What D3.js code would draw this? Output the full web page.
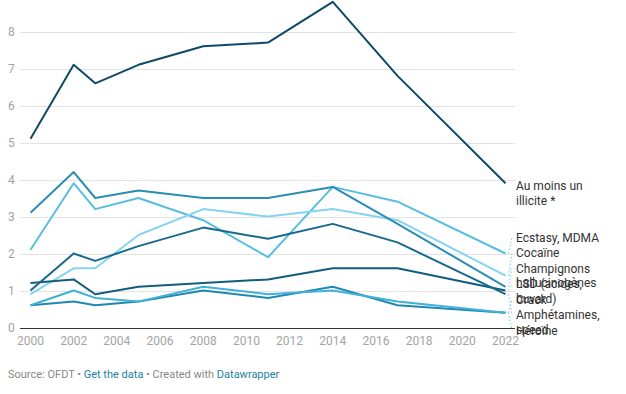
<!DOCTYPE html>
<html>
<head>
<meta charset="utf-8">
<script src="https://cdn.jsdelivr.net/npm/d3@7"></script>
<style>
  html, body { margin: 0; padding: 0; background: #fff; }
  svg { display: block; font-family: Roboto, "Noto Sans", sans-serif; }
</style>
</head>
<body>
<svg id="chart" width="626" height="394"></svg>
<script>
// ---- data ----
const years = [2000, 2002, 2003, 2005, 2008, 2011, 2014, 2017, 2022];
const seriesNames = ["Au moins un illicite *", "Ecstasy, MDMA", "Cocaïne", "Champignons hallucinogènes",
                     "LSD (acides, buvard)", "Crack", "Amphétamines, speed", "Héroïne"];
const auMoinsUn    = [5.1, 7.1, 6.6, 7.1, 7.6, 7.7, 8.8, 6.8, 3.9];
const ecstasy      = [2.1, 3.9, 3.2, 3.5, 2.9, 1.9, 3.8, 3.4, 2.0];
const cocaine      = [0.9, 1.6, 1.6, 2.5, 3.2, 3.0, 3.2, 2.9, 1.4];
const champignons  = [3.1, 4.2, 3.5, 3.7, 3.5, 3.5, 3.8, 2.8, 1.1];
const lsd          = [1.2, 1.3, 0.9, 1.1, 1.2, 1.3, 1.6, 1.6, 1.0];
const crack        = [0.6, 0.7, 0.6, 0.7, 1.0, 0.8, 1.1, 0.6, 0.4];
const amphetamines = [1.0, 2.0, 1.8, 2.2, 2.7, 2.4, 2.8, 2.3, 0.9];
const heroine      = [0.6, 1.0, 0.8, 0.7, 1.1, 0.9, 1.0, 0.7, 0.4];
const seriesValues = [auMoinsUn, ecstasy, cocaine, champignons, lsd, crack, amphetamines, heroine];
const yTicks = [0, 1, 2, 3, 4, 5, 6, 7, 8];
const xTicks = [2000, 2002, 2004, 2006, 2008, 2010, 2012, 2014, 2016, 2018, 2020, 2022];
const sourceText = ["Source: OFDT", "Get the data", "Created with", "Datawrapper"];

// ---- styles ----
const colors = ["#0e4a66", "#58bde0", "#86d4ef", "#2a8db5", "#135c7e", "#1f88b0", "#17698e", "#40b0d8"];

const svg = d3.select("#chart");
const x = d3.scaleLinear().domain([2000, 2022]).range([30.5, 505.5]);
const y = d3.scaleLinear().domain([0, 8]).range([327.5, 31.5]);
const gridX0 = 20, gridX1 = 515;

// gridlines
svg.append("g").selectAll("line").data(yTicks.filter(d => d > 0)).join("line")
  .attr("x1", gridX0).attr("x2", gridX1)
  .attr("y1", d => Math.round(y(d)) + 0.5).attr("y2", d => Math.round(y(d)) + 0.5)
  .attr("stroke", "#e3e3e3").attr("stroke-width", 1);

// y labels
svg.append("g").selectAll("text").data(yTicks).join("text")
  .attr("x", 8).attr("y", d => y(d)).attr("dy", "0.35em")
  .attr("font-size", 12).attr("fill", "#a3a3a3")
  .text(d => d);

// baseline
svg.append("line").attr("x1", gridX0).attr("x2", gridX1)
  .attr("y1", Math.round(y(0)) + 0.5).attr("y2", Math.round(y(0)) + 0.5)
  .attr("stroke", "#333").attr("stroke-width", 1);

// x labels
svg.append("g").selectAll("text").data(xTicks).join("text")
  .attr("x", d => x(d)).attr("y", 341).attr("dy", "0.35em")
  .attr("text-anchor", "middle").attr("font-size", 12).attr("fill", "#a3a3a3")
  .text(d => d);

// lines
const line = d3.line().x((d, i) => x(years[i])).y(d => y(d));
svg.append("g").selectAll("path").data(seriesValues).join("path")
  .attr("d", d => line(d))
  .attr("fill", "none")
  .attr("stroke", (d, i) => colors[i])
  .attr("stroke-width", 2)
  .attr("stroke-linejoin", "round");

// labels with simple collision resolution
const labelX = 516, lineH = 14.5, gap = 15.5, maxW = 98;
const bottomLimit = y(0) + 3;
const labels = seriesNames.map((name, i) => {
  const v = seriesValues[i][seriesValues[i].length - 1];
  return { name, i, endY: y(v), ideal: y(v) + 3 };
});
// top-down
labels.forEach((l, k) => {
  l.pos = k === 0 ? l.ideal : Math.max(l.ideal, labels[k - 1].pos + gap);
});
// bottom-up
for (let k = labels.length - 1; k >= 0; k--) {
  const lim = k === labels.length - 1 ? bottomLimit : labels[k + 1].pos - gap;
  labels[k].pos = Math.min(labels[k].pos, lim);
}

// measure & wrap
const meas = svg.append("text").attr("font-size", 12).attr("visibility", "hidden");
function wrap(str) {
  const words = str.split(" ");
  const lines = [];
  let cur = "";
  words.forEach(w => {
    const t = cur ? cur + " " + w : w;
    meas.text(t);
    if (meas.node().getComputedTextLength() > maxW && cur) { lines.push(cur); cur = w; }
    else cur = t;
  });
  if (cur) lines.push(cur);
  return lines;
}

// leader lines
svg.append("g").selectAll("line").data(labels.filter(l => Math.abs(l.pos - l.ideal) > 4)).join("line")
  .attr("x1", x(2022) + 3).attr("y1", l => l.endY)
  .attr("x2", labelX - 4).attr("y2", l => l.pos)
  .attr("stroke", "#7cc3df").attr("stroke-width", 1).attr("stroke-dasharray", "1.5,2");

const lg = svg.append("g");
labels.forEach(l => {
  const t = lg.append("text").attr("font-size", 12).attr("fill", "#333");
  wrap(l.name).forEach((ln, j) => {
    t.append("tspan").attr("x", labelX).attr("y", l.pos + j * lineH).attr("dy", "0.35em").text(ln);
  });
});
meas.remove();

// footer
const ft = svg.append("text").attr("x", 8).attr("y", 374).attr("dy", "0.35em").attr("font-size", 11);
ft.append("tspan").attr("fill", "#888").text(sourceText[0] + " • ");
ft.append("tspan").attr("fill", "#1d81a2").text(sourceText[1]);
ft.append("tspan").attr("fill", "#888").text(" • " + sourceText[2] + " ");
ft.append("tspan").attr("fill", "#1d81a2").text(sourceText[3]);
</script>
</body>
</html>
